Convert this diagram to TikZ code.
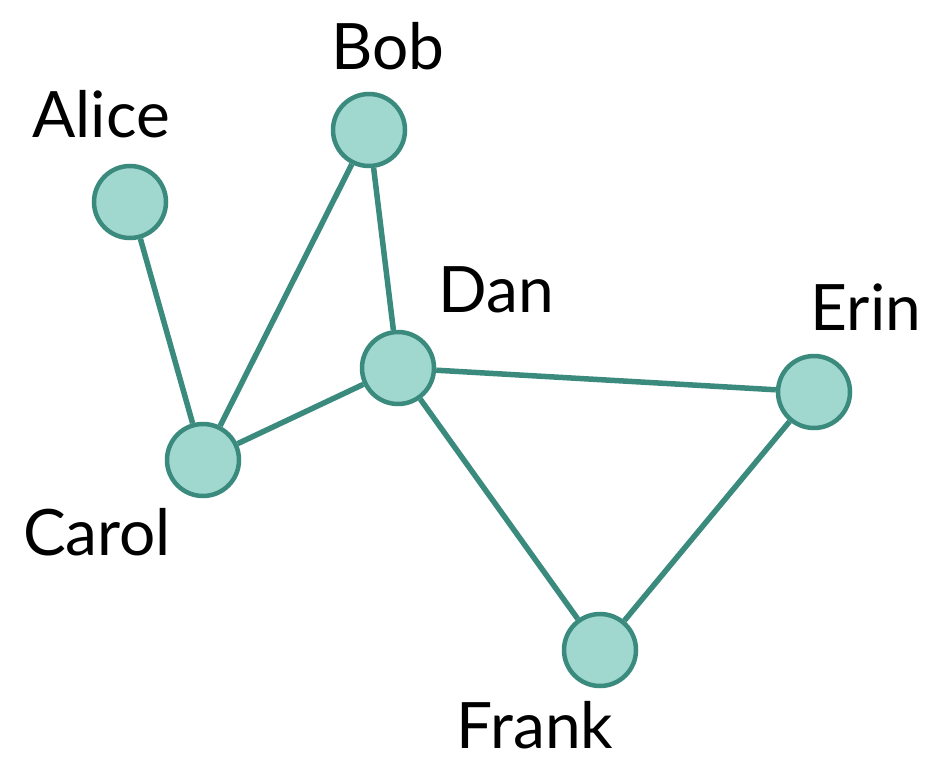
\documentclass[tikz,border=0pt]{standalone}
\usepackage{fontspec}
\setmainfont{Lato}
\definecolor{edgeteal}{HTML}{3A8A7E}
\definecolor{fillteal}{HTML}{A0D8D0}
\pgfdeclarelayer{bg}
\pgfsetlayers{bg,main}
\begin{document}
\begin{tikzpicture}[x=1pt,y=-1pt,
  vert/.style={circle,draw=edgeteal,fill=fillteal,line width=4.5pt,minimum size=72pt,inner sep=0pt},
  link/.style={draw=edgeteal,line width=5.5pt},
  lbl/.style={anchor=base,font=\fontsize{64}{72}\selectfont,inner sep=0pt}]
\useasboundingbox (0,0) rectangle (931,757);
% vertices
\node[vert] (alice) at (130,202) {};
\node[vert] (bob) at (369,130) {};
\node[vert] (dan) at (398,368) {};
\node[vert] (erin) at (814,392) {};
\node[vert] (carol) at (203,460) {};
\node[vert] (frank) at (600,650) {};
% labels
\node[lbl] (lalice) at (101,138) {Alice};
\node[lbl] (lbob) at (388,70) {Bob};
\node[lbl] (ldan) at (496,312) {Dan};
\node[lbl] (lerin) at (866,330) {Erin};
\node[lbl] (lcarol) at (97,555) {Carol};
\node[lbl] (lfrank) at (535,748) {Frank};
% edges, kept behind the vertices
\begin{pgfonlayer}{bg}
\draw[link] (alice) -- (carol);
\draw[link] (bob) -- (carol);
\draw[link] (bob) -- (dan);
\draw[link] (carol) -- (dan);
\draw[link] (dan) -- (erin);
\draw[link] (dan) -- (frank);
\draw[link] (erin) -- (frank);
\end{pgfonlayer}
\end{tikzpicture}
\end{document}
